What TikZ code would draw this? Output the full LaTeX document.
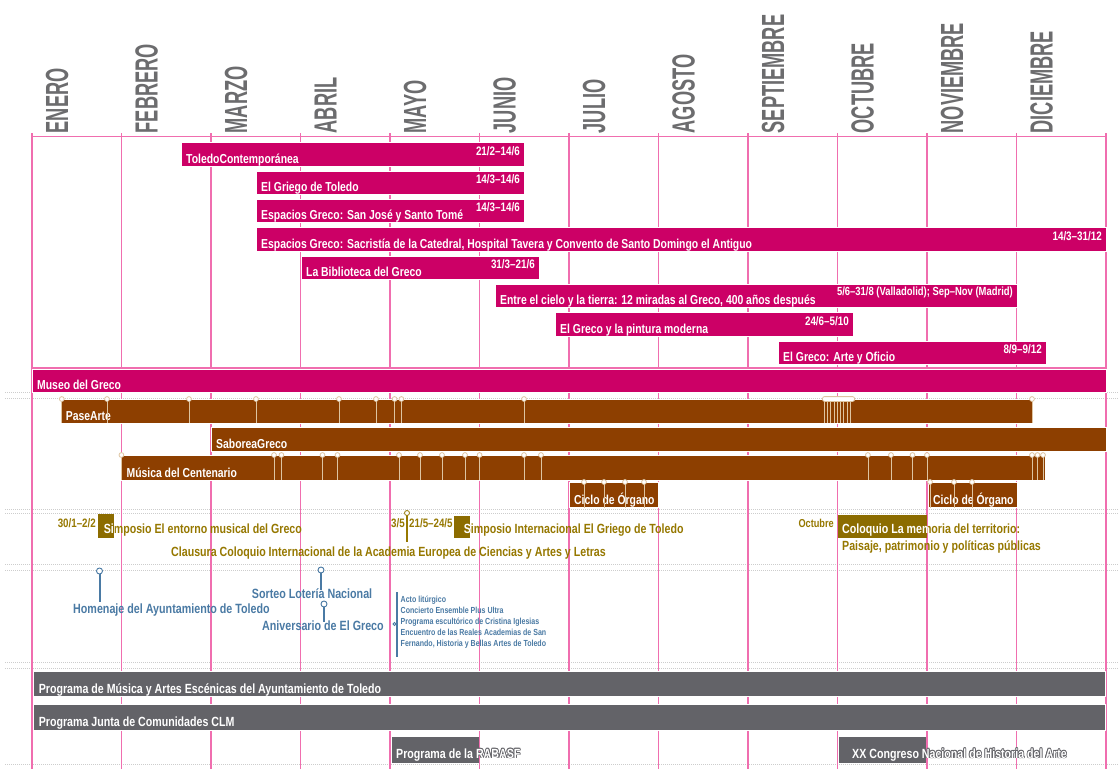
\documentclass[tikz,border=0pt]{standalone}
\usepackage{fontspec}
\setmainfont{Liberation Sans}[FakeStretch=0.8]
\newfontfamily\monthfont{Liberation Sans}[FakeStretch=0.57]
\definecolor{mag}{RGB}{204,0,102}
\definecolor{pinkl}{RGB}{240,110,175}
\definecolor{brn}{RGB}{141,63,0}
\definecolor{gld}{RGB}{150,120,0}
\definecolor{gldbox}{RGB}{140,108,0}
\definecolor{blu}{RGB}{74,122,164}
\definecolor{gry}{RGB}{99,99,104}
\definecolor{mgray}{RGB}{108,108,110}
\definecolor{dotc}{RGB}{205,205,205}
\definecolor{tanc}{RGB}{222,196,160}
\newcommand\tbar[7]{%
  \fill[#6] (#2,#3) rectangle (#4,#5);
  \draw[barline] (#2,#3) rectangle (#4,#5);
  \node[lbl, anchor=base west] (#1) at ({#2+5},{#5-2.8}) {#7};}
\newcommand\tdate[4]{%
  \node[dlbl, anchor=north east] (#1) at ({#2-4},{#3+3.2}) {#4};}
\newcommand\bmk[3]{%
  \draw[mkline] (#1,#2) -- (#1,#3);
  \draw[mkdot] (#1,#2) circle (2.4);}
\begin{document}
\begin{tikzpicture}[x=1pt,y=-1pt,
  mline/.style={pinkl, line width=1.4pt},
  dotl/.style={dotc, line width=0.6pt, dash pattern=on 1pt off 1pt},
  barline/.style={white, line width=0.7pt},
  month/.style={font=\monthfont\bfseries\fontsize{32}{32}\selectfont, text=mgray, rotate=90, anchor=base west, inner sep=0},
  lbl/.style={font=\bfseries\fontsize{13}{13}\selectfont, text=white, inner sep=0},
  dlbl/.style={font=\bfseries\fontsize{12.3}{12.3}\selectfont, text=white, inner sep=0},
  gtext/.style={font=\bfseries\fontsize{13.3}{13.3}\selectfont, text=gld, inner sep=0, anchor=base west},
  gsmall/.style={font=\bfseries\fontsize{12.2}{12.2}\selectfont, text=gld, inner sep=0},
  btext/.style={font=\bfseries\fontsize{13.4}{13.4}\selectfont, text=blu, inner sep=0, anchor=base west},
  bsmall/.style={font=\bfseries\fontsize{8.8}{8.8}\selectfont, text=blu, inner sep=0, anchor=base west},
  grtext/.style={font=\bfseries\fontsize{13.3}{13.3}\selectfont, text=white, inner sep=0, anchor=base west},
  mkline/.style={tanc, line width=0.8pt},
  mkdot/.style={tanc, fill=white, line width=0.8pt},
  bline/.style={blu, line width=2pt},
  bdot/.style={blu, fill=white, line width=0.9pt}]
\useasboundingbox (0,0) rectangle (1120,769);
\fill[white] (0,0) rectangle (1120,769);
% dotted separators
\foreach \y in {392,398,509,513,564,570,662,668,764}
  \draw[dotl] (5,\y) -- (1118,\y);
% month grid
\foreach \i in {0,...,12}
  \draw[mline] ({32+89.5*\i},133) -- ({32+89.5*\i},769);
\draw[mline] (32,136.7) -- (1106,136.7);
\draw[mline] (32,368) -- (1106,368);
\foreach \m [count=\i from 0] in {ENERO,FEBRERO,MARZO,ABRIL,MAYO,JUNIO,JULIO,AGOSTO,SEPTIEMBRE,OCTUBRE,NOVIEMBRE,DICIEMBRE}
  \node[month] (m\i) at ({32+89.5*\i+36},133.5) {\m};
% exhibitions
\tbar{tc}{181}{142.7}{524}{166.7}{mag}{ToledoContemporánea}
\tdate{tcd}{524}{142.7}{21/2–14/6}
\tbar{gt}{256}{171}{524}{194.3}{mag}{El Griego de Toledo}
\tdate{gtd}{524}{171}{14/3–14/6}
\tbar{egs}{256}{199.3}{524}{222.7}{mag}{Espacios Greco: San José y Santo Tomé}
\tdate{egsd}{524}{199.3}{14/3–14/6}
\tbar{egc}{256}{227.7}{1106}{251}{mag}{Espacios Greco: Sacristía de la Catedral, Hospital Tavera y Convento de Santo Domingo el Antiguo}
\tdate{egcd}{1106}{227.7}{14/3–31/12}
\tbar{bib}{301}{256}{539}{279.3}{mag}{La Biblioteca del Greco}
\tdate{bibd}{539}{256}{31/3–21/6}
\tbar{ecy}{495}{284}{1017}{307.7}{mag}{Entre el cielo y la tierra: 12 miradas al Greco, 400 años después}
\node[dlbl, font=\bfseries\fontsize{11.8}{11.8}\selectfont, anchor=north east] (ecyd) at (1013,287) {5/6–31/8 (Valladolid); Sep–Nov (Madrid)};
\tbar{pm}{555}{312.7}{853}{336}{mag}{El Greco y la pintura moderna}
\tdate{pmd}{853}{312.7}{24/6–5/10}
\tbar{ao}{778}{341}{1046}{364.3}{mag}{El Greco: Arte y Oficio}
\tdate{aod}{1046}{341}{8/9–9/12}
\tbar{museo}{32}{369}{1106}{392.3}{mag}{Museo del Greco}
% brown programmes
\tbar{pase}{60.7}{399}{1033}{423.3}{brn}{PaseArte}
\foreach \x in {61.8,107,189,256,339,376,394.6,401.4,524,1032}
  {\bmk{\x}{399}{423.3}}
\foreach \x in {824,827.3,...,853}
  \draw[mkline] (\x,399) -- (\x,423.3);
\draw[mkdot, rounded corners=2] (822.5,396.6) rectangle (854.6,401.4);
\tbar{sab}{211}{427.7}{1106}{451.7}{brn}{SaboreaGreco}
\tbar{mus}{121.4}{455}{1045}{480}{brn}{Música del Centenario}
\foreach \x in {121.4,274,281.4,322.5,337.5,399,420,442,465,479.6,524,541,867.9,891,912.5,927,1032,1037.5,1043}
  {\bmk{\x}{455}{480}}
\tbar{ciclo1}{569}{482}{658}{507.7}{brn}{Ciclo de Órgano}
\foreach \x in {584,604,625,644}
  {\bmk{\x}{482}{507.7}}
\tbar{ciclo2}{928}{482}{1017}{507.7}{brn}{Ciclo de Órgano}
\foreach \x in {930,954,972}
  {\bmk{\x}{482}{507.7}}
% gold events
\node[gsmall, anchor=base east] (d1) at (96,527) {30/1–2/2};
\fill[gldbox] (98,514) rectangle (114,538);
\node[gtext] (simp1) at (103.6,533) {Simposio El entorno musical del Greco};
\begin{scope}
  \clip (98,514) rectangle (114,538);
  \node[gtext, text=white] at (103.6,533) {Simposio El entorno musical del Greco};
\end{scope}
\draw[gld, line width=1.6pt] (407,513) -- (407,542);
\draw[gld, fill=white, line width=0.8pt] (407,513) circle (2.5);
\node[gsmall, anchor=base east] (d2) at (405,527) {3/5};
\node[gsmall, anchor=base west] (d3) at (409,527) {21/5–24/5};
\fill[gldbox] (454,515.7) rectangle (470,538);
\node[gtext] (simp2) at (463.6,533) {Simposio Internacional El Griego de Toledo};
\begin{scope}
  \clip (454,515.7) rectangle (470,538);
  \node[gtext, text=white] at (463.6,533) {Simposio Internacional El Griego de Toledo};
\end{scope}
\node[gtext] (claus) at (171,556.5) {Clausura Coloquio Internacional de la Academia Europea de Ciencias y Artes y Letras};
\node[gsmall, font=\bfseries\fontsize{11.5}{11.5}\selectfont, anchor=base east] (d4) at (834,527) {Octubre};
\fill[gldbox] (838,515) rectangle (927,538);
\node[gtext] (coloq) at (842,533) {Coloquio La memoria del territorio:};
\begin{scope}
  \clip (838,515) rectangle (927,538);
  \node[gtext, text=white] at (842,533) {Coloquio La memoria del territorio:};
\end{scope}
\node[gtext] (coloq2) at (842,550.5) {Paisaje, patrimonio y políticas públicas};
% blue events
\draw[bline] (99.5,571) -- (99.5,602);
\draw[bdot] (99.5,571) circle (3);
\node[btext] (hom) at (73,613) {Homenaje del Ayuntamiento de Toledo};
\draw[bline] (321,570) -- (321,590);
\draw[bdot] (321,570) circle (3);
\node[btext] (sort) at (251.7,598) {Sorteo Lotería Nacional};
\draw[bline] (324,604) -- (324,622);
\draw[bdot] (324,604) circle (3);
\node[btext] (aniv) at (262,630) {Aniversario de El Greco};
\draw[bline] (396.5,592) -- (396.5,657);
\draw[bdot] (394.5,624) circle (1.6);
\node[bsmall] (l1) at (400.5,602) {Acto litúrgico};
\node[bsmall] (l2) at (400.5,613) {Concierto Ensemble Plus Ultra};
\node[bsmall] (l3) at (400.5,624) {Programa escultórico de Cristina Iglesias};
\node[bsmall] (l4) at (400.5,635) {Encuentro de las Reales Academias de San};
\node[bsmall] (l5) at (400.5,646) {Fernando, Historia y Bellas Artes de Toledo};
% grey programmes
\fill[gry] (33,671.7) rectangle (1105,696.7);
\draw[barline] (33,671.7) rectangle (1105,696.7);
\node[grtext] (prog1) at (38.6,693) {Programa de Música y Artes Escénicas del Ayuntamiento de Toledo};
\fill[gry] (33,704) rectangle (1105,730);
\draw[barline] (33,704) rectangle (1105,730);
\node[grtext] (prog2) at (38.6,726) {Programa Junta de Comunidades CLM};
\fill[gry] (392,737) rectangle (478.6,762.7);
\foreach \dx/\dy in {-0.8/0,0.8/0,0/-0.8,0/0.8,-0.6/-0.6,0.6/0.6,-0.6/0.6,0.6/-0.6}
  \node[grtext, text=gry, xshift=\dx, yshift=\dy] at (396,758) {Programa de la RABASF};
\node[grtext] (rab) at (396,758) {Programa de la RABASF};
\fill[gry] (838.6,737) rectangle (926,762.7);
\foreach \dx/\dy in {-0.8/0,0.8/0,0/-0.8,0/0.8,-0.6/-0.6,0.6/0.6,-0.6/0.6,0.6/-0.6}
  \node[grtext, text=gry, xshift=\dx, yshift=\dy] at (852,758) {XX Congreso Nacional de Historia del Arte};
\node[grtext] (cong) at (852,758) {XX Congreso Nacional de Historia del Arte};
\end{tikzpicture}
\end{document}
